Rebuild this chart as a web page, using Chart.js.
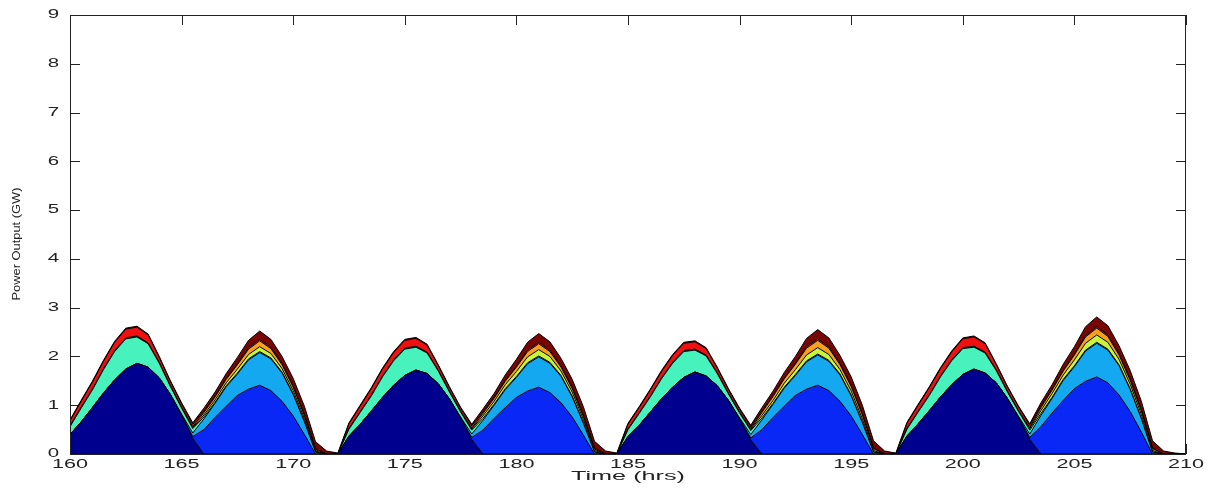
<!DOCTYPE html>
<html>
<head>
<meta charset="utf-8">
<script src="https://cdn.jsdelivr.net/npm/chart.js@4.4.0/dist/chart.umd.min.js"></script>
<style>
  body { margin: 0; background: #fff; }
  canvas { display: block; }
</style>
</head>
<body>
<canvas id="powerChart" width="1209" height="488"></canvas>
<script>
// time axis, half-hour steps
const times = [
    160, 160.5, 161, 161.5, 162, 162.5, 163, 163.5, 164, 164.5, 165, 165.5, 166, 166.5, 167, 167.5, 168, 168.5, 169, 169.5,
    170, 170.5, 171, 171.5, 172, 172.5, 173, 173.5, 174, 174.5, 175, 175.5, 176, 176.5, 177, 177.5, 178, 178.5, 179, 179.5,
    180, 180.5, 181, 181.5, 182, 182.5, 183, 183.5, 184, 184.5, 185, 185.5, 186, 186.5, 187, 187.5, 188, 188.5, 189, 189.5,
    190, 190.5, 191, 191.5, 192, 192.5, 193, 193.5, 194, 194.5, 195, 195.5, 196, 196.5, 197, 197.5, 198, 198.5, 199, 199.5,
    200, 200.5, 201, 201.5, 202, 202.5, 203, 203.5, 204, 204.5, 205, 205.5, 206, 206.5, 207, 207.5, 208, 208.5, 209, 209.5,
    210
];

const xTicks = [160, 165, 170, 175, 180, 185, 190, 195, 200, 205, 210];
const yTicks = [0, 1, 2, 3, 4, 5, 6, 7, 8, 9];

// stacked layers, bottom to top (GW)
const navy = [
    0.40, 0.66, 0.95, 1.25, 1.52, 1.74, 1.86, 1.78, 1.56, 1.22, 0.80, 0.32, 0,
    0, 0, 0, 0, 0, 0, 0, 0, 0, 0, 0, 0,
    0.37, 0.61, 0.88, 1.16, 1.41, 1.61, 1.72, 1.65, 1.44, 1.13, 0.74, 0.30, 0,
    0, 0, 0, 0, 0, 0, 0, 0, 0, 0, 0, 0,
    0.36, 0.59, 0.86, 1.13, 1.37, 1.57, 1.68, 1.60, 1.40, 1.10, 0.72, 0.29, 0,
    0, 0, 0, 0, 0, 0, 0, 0, 0, 0, 0, 0,
    0.37, 0.62, 0.89, 1.17, 1.42, 1.63, 1.74, 1.66, 1.46, 1.14, 0.75, 0.30, 0,
    0, 0, 0, 0, 0, 0, 0, 0, 0, 0, 0, 0, 0
];

const blue = [
    0, 0, 0, 0, 0, 0, 0, 0, 0, 0,
    0, 0.04, 0.50, 0.75, 0.98, 1.20, 1.33, 1.41, 1.30, 1.08, 0.78, 0.40, 0, 0, 0,
    0, 0, 0, 0, 0, 0, 0, 0, 0, 0,
    0, 0.04, 0.49, 0.73, 0.95, 1.16, 1.29, 1.37, 1.26, 1.05, 0.76, 0.39, 0, 0, 0,
    0, 0, 0, 0, 0, 0, 0, 0, 0, 0,
    0, 0.04, 0.50, 0.75, 0.98, 1.20, 1.33, 1.41, 1.30, 1.08, 0.78, 0.40, 0, 0, 0,
    0, 0, 0, 0, 0, 0, 0, 0, 0, 0,
    0, 0.04, 0.56, 0.84, 1.10, 1.34, 1.49, 1.58, 1.46, 1.21, 0.87, 0.45, 0, 0, 0,
    0
];

const lightBlue = [
    0, 0, 0, 0, 0, 0, 0, 0, 0, 0,
    0.02, 0.07, 0.22, 0.29, 0.40, 0.44, 0.60, 0.67, 0.65, 0.58, 0.44, 0.26, 0.04, 0, 0,
    0, 0, 0, 0, 0, 0, 0, 0, 0, 0,
    0.02, 0.07, 0.20, 0.27, 0.37, 0.41, 0.56, 0.62, 0.60, 0.54, 0.41, 0.24, 0.04, 0, 0,
    0, 0, 0, 0, 0, 0, 0, 0, 0, 0,
    0.02, 0.07, 0.20, 0.27, 0.37, 0.41, 0.56, 0.62, 0.60, 0.54, 0.41, 0.24, 0.04, 0, 0,
    0, 0, 0, 0, 0, 0, 0, 0, 0, 0,
    0.02, 0.07, 0.23, 0.30, 0.41, 0.45, 0.62, 0.69, 0.67, 0.60, 0.45, 0.27, 0.04, 0, 0,
    0
];

const aqua = [
    0.16, 0.28, 0.36, 0.48, 0.58, 0.62, 0.54, 0.48, 0.30, 0.16, 0.12, 0.09, 0.04,
    0.02, 0.02, 0.02, 0.02, 0.02, 0.02, 0.02, 0.02, 0.02, 0, 0, 0,
    0.14, 0.24, 0.31, 0.42, 0.50, 0.54, 0.47, 0.42, 0.26, 0.14, 0.10, 0.08, 0.04,
    0.02, 0.02, 0.02, 0.02, 0.02, 0.02, 0.02, 0.02, 0.02, 0, 0, 0,
    0.14, 0.24, 0.31, 0.41, 0.49, 0.53, 0.45, 0.41, 0.25, 0.13, 0.10, 0.08, 0.04,
    0.02, 0.02, 0.02, 0.02, 0.02, 0.02, 0.02, 0.02, 0.02, 0, 0, 0,
    0.14, 0.24, 0.31, 0.41, 0.49, 0.53, 0.45, 0.41, 0.25, 0.13, 0.10, 0.08, 0.04,
    0.02, 0.02, 0.02, 0.02, 0.02, 0.02, 0.02, 0.02, 0.02, 0, 0, 0, 0
];

const yellowGreen = [
    0.01, 0.01, 0.01, 0.01, 0.01, 0.01, 0.01, 0.01, 0.01, 0.01, 0.01, 0.02, 0.04,
    0.05, 0.06, 0.08, 0.09, 0.10, 0.09, 0.07, 0.06, 0.05, 0.02, 0, 0,
    0.01, 0.01, 0.01, 0.01, 0.01, 0.01, 0.01, 0.01, 0.01, 0.01, 0.01, 0.02, 0.05,
    0.06, 0.08, 0.10, 0.12, 0.13, 0.12, 0.09, 0.08, 0.06, 0.03, 0, 0,
    0.01, 0.01, 0.01, 0.01, 0.01, 0.01, 0.01, 0.01, 0.01, 0.01, 0.01, 0.02, 0.05,
    0.06, 0.08, 0.10, 0.12, 0.13, 0.12, 0.09, 0.08, 0.06, 0.03, 0, 0,
    0.01, 0.01, 0.01, 0.01, 0.01, 0.01, 0.01, 0.01, 0.01, 0.01, 0.01, 0.03, 0.06,
    0.08, 0.09, 0.12, 0.14, 0.15, 0.14, 0.11, 0.09, 0.07, 0.03, 0, 0, 0
];

const orange = [
    0.01, 0.01, 0.01, 0.01, 0.01, 0.01, 0.01, 0.01, 0.01, 0.01, 0.01, 0.02, 0.05,
    0.06, 0.07, 0.09, 0.11, 0.12, 0.10, 0.08, 0.07, 0.06, 0.03, 0, 0,
    0.01, 0.01, 0.01, 0.01, 0.01, 0.01, 0.01, 0.01, 0.01, 0.01, 0.01, 0.02, 0.05,
    0.06, 0.07, 0.09, 0.11, 0.12, 0.10, 0.08, 0.07, 0.06, 0.03, 0, 0,
    0.01, 0.01, 0.01, 0.01, 0.01, 0.01, 0.01, 0.01, 0.01, 0.01, 0.01, 0.02, 0.06,
    0.08, 0.09, 0.11, 0.14, 0.15, 0.13, 0.10, 0.09, 0.08, 0.04, 0, 0,
    0.01, 0.01, 0.01, 0.01, 0.01, 0.01, 0.01, 0.01, 0.01, 0.01, 0.01, 0.02, 0.06,
    0.07, 0.08, 0.10, 0.13, 0.14, 0.12, 0.09, 0.08, 0.07, 0.04, 0, 0, 0
];

const red = [
    0.10, 0.12, 0.14, 0.15, 0.17, 0.18, 0.18, 0.16, 0.10, 0.08, 0.07, 0.05, 0.03,
    0.02, 0.02, 0.02, 0.03, 0.03, 0.03, 0.03, 0.03, 0.03, 0.02, 0, 0,
    0.09, 0.11, 0.13, 0.14, 0.15, 0.16, 0.16, 0.14, 0.09, 0.07, 0.06, 0.05, 0.03,
    0.02, 0.02, 0.02, 0.03, 0.03, 0.03, 0.03, 0.03, 0.03, 0.02, 0, 0,
    0.09, 0.10, 0.12, 0.13, 0.14, 0.15, 0.15, 0.13, 0.09, 0.07, 0.06, 0.04, 0.03,
    0.02, 0.02, 0.02, 0.03, 0.03, 0.03, 0.03, 0.03, 0.03, 0.02, 0, 0,
    0.10, 0.12, 0.14, 0.15, 0.16, 0.18, 0.19, 0.17, 0.10, 0.08, 0.07, 0.05, 0.03,
    0.02, 0.02, 0.02, 0.03, 0.03, 0.03, 0.03, 0.03, 0.03, 0.02, 0, 0, 0
];

const darkRed = [
    0.02, 0.02, 0.02, 0.02, 0.02, 0.02, 0.02, 0.02, 0.02, 0.02, 0.02, 0.03, 0.06,
    0.08, 0.10, 0.13, 0.15, 0.17, 0.16, 0.14, 0.15, 0.16, 0.14, 0.06, 0.02,
    0.02, 0.02, 0.02, 0.02, 0.02, 0.02, 0.02, 0.02, 0.02, 0.02, 0.02, 0.03, 0.06,
    0.08, 0.11, 0.14, 0.16, 0.18, 0.17, 0.15, 0.16, 0.17, 0.14, 0.06, 0.02,
    0.02, 0.02, 0.02, 0.02, 0.02, 0.02, 0.02, 0.02, 0.02, 0.02, 0.02, 0.03, 0.07,
    0.09, 0.11, 0.14, 0.17, 0.19, 0.18, 0.16, 0.17, 0.17, 0.14, 0.06, 0.02,
    0.02, 0.02, 0.02, 0.02, 0.02, 0.02, 0.02, 0.02, 0.02, 0.02, 0.02, 0.03, 0.07,
    0.09, 0.12, 0.15, 0.18, 0.20, 0.19, 0.16, 0.17, 0.17, 0.14, 0.06, 0.02, 0
];

const layers = [
    { values: navy, color: '#00008e' },
    { values: blue, color: '#0a28f5' },
    { values: lightBlue, color: '#14a8f0' },
    { values: aqua, color: '#48f2bc' },
    { values: yellowGreen, color: '#c8f53c' },
    { values: orange, color: '#f7a020' },
    { values: red, color: '#f01010' },
    { values: darkRed, color: '#7a0505' }
];

// draw text squeezed/stretched along its own direction
function drawStretched(ctx, text, x, y, sx, align) {
    ctx.save();
    ctx.translate(x, y);
    ctx.scale(sx, 1);
    ctx.textAlign = align;
    ctx.fillText(text, 0, 0);
    ctx.restore();
}

// MATLAB style box, inward ticks and labels
const matlabAxes = {
    id: 'matlabAxes',
    beforeDatasetsDraw(chart) {
        const ctx = chart.ctx;
        const a = chart.chartArea;
        const xs = chart.scales.x;
        const ys = chart.scales.y;
        ctx.save();
        ctx.strokeStyle = '#222';
        ctx.lineWidth = 1;
        ctx.beginPath();
        xTicks.forEach(v => {
            const px = Math.round(xs.getPixelForValue(v)) + 0.5;
            ctx.moveTo(px, a.bottom);
            ctx.lineTo(px, a.bottom - 10);
            ctx.moveTo(px, a.top);
            ctx.lineTo(px, a.top + 10);
        });
        yTicks.forEach(v => {
            const py = Math.round(ys.getPixelForValue(v)) + 0.5;
            ctx.moveTo(a.left, py);
            ctx.lineTo(a.left + 10, py);
            ctx.moveTo(a.right, py);
            ctx.lineTo(a.right - 10, py);
        });
        ctx.stroke();
        ctx.restore();
    },
    afterDatasetsDraw(chart) {
        const ctx = chart.ctx;
        const a = chart.chartArea;
        const xs = chart.scales.x;
        const ys = chart.scales.y;
        ctx.save();
        ctx.strokeStyle = '#222';
        ctx.lineWidth = 1;
        ctx.strokeRect(a.left + 0.5, a.top + 0.5, a.right - a.left - 1, a.bottom - a.top);

        ctx.fillStyle = '#222';
        ctx.font = '12px "Liberation Sans", Arial, sans-serif';
        ctx.textBaseline = 'middle';
        yTicks.forEach(v => {
            drawStretched(ctx, String(v), a.left - 11, ys.getPixelForValue(v), 1.7, 'right');
        });
        xTicks.forEach(v => {
            drawStretched(ctx, String(v), xs.getPixelForValue(v), a.bottom + 11, 1.8, 'center');
        });

        // axis titles
        const xTitle = 'Time (hrs)';
        drawStretched(ctx, xTitle, 628, 477, 114 / ctx.measureText(xTitle).width, 'center');

        const yTitle = 'Power Output (GW)';
        ctx.font = '11px "Liberation Sans", Arial, sans-serif';
        const w = ctx.measureText(yTitle).width;
        ctx.save();
        ctx.translate(17, 244);
        ctx.rotate(-Math.PI / 2);
        ctx.scale(113 / w, 1);
        ctx.textAlign = 'center';
        ctx.fillText(yTitle, 0, 0);
        ctx.restore();
        ctx.restore();
    }
};

const chart = new Chart(document.getElementById('powerChart'), {
    type: 'line',
    data: {
        datasets: layers.map((layer, i) => ({
            data: times.map((t, k) => ({ x: t, y: layer.values[k] })),
            backgroundColor: layer.color,
            borderColor: '#000',
            borderWidth: 1,
            pointRadius: 0,
            tension: 0,
            fill: i === 0 ? 'origin' : '-1'
        }))
    },
    options: {
        responsive: false,
        animation: false,
        devicePixelRatio: 1,
        layout: { padding: { left: 70, top: 15, right: 23, bottom: 34 } },
        plugins: {
            legend: { display: false },
            tooltip: { enabled: false }
        },
        scales: {
            x: { type: 'linear', min: 160, max: 210, display: false },
            y: { stacked: true, min: 0, max: 9, display: false }
        }
    },
    plugins: [matlabAxes]
});
</script>
</body>
</html>
